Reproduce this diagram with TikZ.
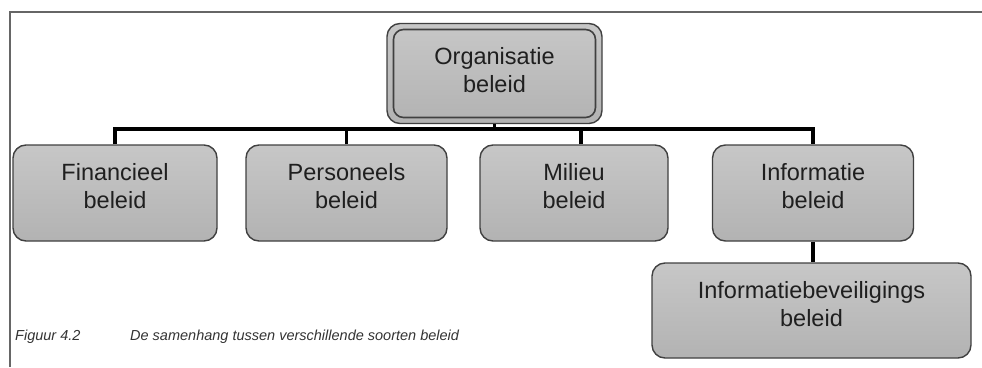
\documentclass[tikz,border=0pt]{standalone}
\usepackage{fontspec}
\setmainfont{Liberation Sans}
\begin{document}
\begin{tikzpicture}[x=1pt,y=-1pt,
  box/.style={draw=black!75, line width=1.4pt, rounded corners=13pt,
    top color=black!22, bottom color=black!30, inner sep=0pt},
  lbl/.style={align=center, text=black!88,
    font=\fontsize{23.5}{28}\selectfont, inner sep=0pt},
  conn/.style={draw=black, line width=3.4pt},
  pageframe/.style={draw=black!60, line width=2pt},
  captext/.style={font=\fontsize{14.5}{16}\selectfont\itshape, text=black!80,
    anchor=base west, inner sep=0pt}]
\useasboundingbox (0,0) rectangle (982,367);

% page frame
\draw[pageframe] (10,367) -- (10,12) -- (982,12);

% top box with double border
\node[box, minimum width=215pt, minimum height=100pt] (org) at (494.5,73.5) {};
\node[draw=black!75, line width=1.6pt, rounded corners=10pt,
  minimum width=202pt, minimum height=88pt] (orgin) at (org.center) {};
\node[lbl] (orgt) at (494.5,70) {Organisatie\\beleid};

% second level
\node[box, minimum width=204pt, minimum height=96pt] (fin) at (115,193) {};
\node[lbl] (fint) at (115,186) {Financieel\\beleid};
\node[box, minimum width=201pt, minimum height=96pt] (pers) at (346.5,193) {};
\node[lbl] (perst) at (346.5,186) {Personeels\\beleid};
\node[box, minimum width=188pt, minimum height=96pt] (mil) at (574,193) {};
\node[lbl] (milt) at (574,186) {Milieu\\beleid};
\node[box, minimum width=201pt, minimum height=96pt] (info) at (813,193) {};
\node[lbl] (infot) at (813,186) {Informatie\\beleid};

% third level
\node[box, minimum width=319pt, minimum height=95pt] (ibev) at (811.5,310.5) {};
\node[lbl] (ibevt) at (811.5,304) {Informatiebeveiligings\\beleid};

% connectors
\coordinate (bus) at (0,129);
\coordinate (milx) at (581,0);
\draw[conn] (fin.north) -- (fin.north |- bus) -- (info.north |- bus) -- (info.north);
\draw[conn] (pers.north) -- (pers.north |- bus);
\draw[conn] (milx |- mil.north) -- (milx |- bus);
\draw[conn] (org.south) -- (org.south |- bus);
\draw[conn] (info.south) -- (info.south |- ibev.north);

% caption
\node[captext] (capnum) at (15,340) {Figuur 4.2};
\node[captext] (captxt) at (130,340) {De samenhang tussen verschillende soorten beleid};
\end{tikzpicture}
\end{document}
